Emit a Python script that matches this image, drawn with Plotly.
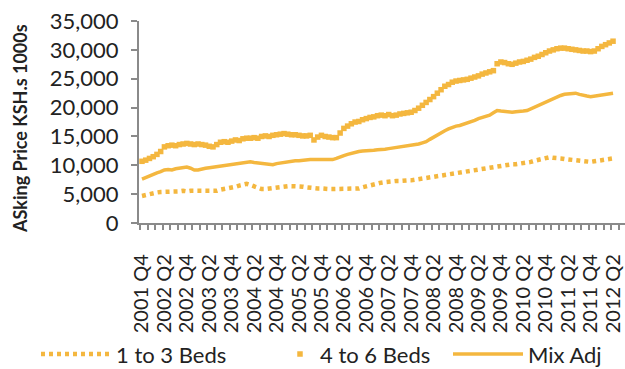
import plotly.graph_objects as go

# monthly observations, index 0 = 2001 Q4 label position
beds_1_3 = [4700, 4900, 5100, 5200, 5300, 5400, 5400, 5500, 5500, 5400, 5500, 5600, 5500, 5600, 5600, 5600,
            5500, 5600, 5600, 5600, 5600, 5800, 5900, 6000, 6100, 6300, 6500, 6700, 6800, 6600, 6300, 6000,
            5900, 5900, 6000, 6100, 6200, 6300, 6300, 6400, 6400, 6400, 6400, 6300, 6200, 6100, 6100, 6000,
            6000, 5900, 5900, 5900, 5900, 5900, 5900, 5900, 5900, 5900, 6000, 6200, 6400, 6600, 6700, 6800,
            7000, 7100, 7200, 7300, 7300, 7300, 7400, 7400, 7400, 7500, 7600, 7700, 7800, 7900, 8000, 8100,
            8300, 8400, 8500, 8600, 8700, 8800, 8900, 9000, 9100, 9200, 9400, 9500, 9600, 9700, 9800, 9900,
            10000, 10100, 10100, 10200, 10200, 10300, 10300, 10400, 10600, 10800, 11000, 11200, 11400, 11400,
            11300, 11300, 11200, 11100, 11000, 11000, 10900, 10800, 10700, 10600, 10600, 10700, 10800, 10900,
            11000, 11100, 11200]

beds_4_6 = [10700, 10900, 11200, 11500, 11900, 12400, 13200, 13400, 13500, 13400, 13600, 13700, 13800, 13700,
            13600, 13700, 13600, 13500, 13300, 13200, 13600, 14000, 14100, 14000, 14200, 14400, 14300, 14600,
            14700, 14700, 14800, 14700, 15000, 15100, 15000, 15200, 15300, 15400, 15500, 15400, 15300, 15300,
            15200, 15100, 15100, 15200, 14400, 14900, 15200, 15000, 14900, 14800, 14800, 15600, 16400, 16800,
            17200, 17500, 17600, 17900, 18100, 18300, 18400, 18600, 18700, 18600, 18800, 18600, 18700, 18900,
            19000, 19100, 19200, 19500, 19900, 20400, 20900, 21400, 21900, 22500, 23100, 23700, 24000, 24400,
            24600, 24700, 24800, 24900, 25100, 25300, 25500, 25800, 26000, 26200, 26400, 27600, 27900, 27800,
            27600, 27500, 27700, 27900, 28000, 28200, 28400, 28700, 28900, 29200, 29500, 29800, 30000, 30200,
            30300, 30300, 30200, 30100, 30000, 29900, 29800, 29800, 29700, 29800, 30200, 30600, 30900, 31200,
            31500]

mix_adj = [7600, 7900, 8200, 8500, 8700, 8900, 9200, 9300, 9200, 9400, 9500, 9600, 9700, 9500, 9200, 9200,
           9400, 9500, 9600, 9700, 9800, 9900, 9900, 10000, 10100, 10200, 10300, 10400, 10500, 10600, 10500,
           10400, 10300, 10200, 10100, 10100, 10300, 10400, 10500, 10700, 10800, 10800, 10800, 10900, 10900,
           11000, 11000, 11000, 11000, 11000, 11000, 11000, 11200, 11500, 11700, 11900, 12100, 12300, 12400,
           12500, 12500, 12600, 12600, 12700, 12700, 12800, 12900, 13000, 13000, 13100, 13200, 13300, 13400,
           13500, 13700, 13900, 14100, 14500, 14900, 15300, 15700, 16000, 16300, 16600, 16800, 16900, 17100,
           17300, 17500, 17800, 18100, 18300, 18500, 18700, 19100, 19500, 19400, 19300, 19200, 19200, 19300,
           19300, 19400, 19500, 19800, 20100, 20400, 20700, 21000, 21300, 21500, 21800, 22100, 22300, 22400,
           22500, 22500, 22300, 22100, 22000, 21900, 22000, 22100, 22200, 22400, 22500, 22500]

months = list(range(len(mix_adj)))

tick_labels = ["2001 Q4", "2002 Q2", "2002 Q4", "2003 Q2", "2003 Q4", "2004 Q2", "2004 Q4", "2005 Q2",
               "2005 Q4", "2006 Q2", "2006 Q4", "2007 Q2", "2007 Q4", "2008 Q2", "2008 Q4", "2009 Q2",
               "2009 Q4", "2010 Q2", "2010 Q4", "2011 Q2", "2011 Q4", "2012 Q2"]
tick_positions = [6 * k for k in range(len(tick_labels))]

y_ticks = [0, 5000, 10000, 15000, 20000, 25000, 30000, 35000]

GOLD = "#F4B73F"
GRAY = "#8A8A8A"
TEXT = "#222222"
FONT = "Lato"

fig = go.Figure()
fig.add_trace(go.Scatter(x=months, y=beds_1_3, mode="lines", name="1 to 3 Beds",
                         line=dict(color=GOLD, width=4.5, dash="4px,4px"), legend="legend"))
fig.add_trace(go.Scatter(x=months, y=beds_4_6, mode="markers", name="4 to 6 Beds",
                         marker=dict(color=GOLD, symbol="square", size=5.5, line=dict(width=0)),
                         legend="legend2"))
fig.add_trace(go.Scatter(x=months, y=mix_adj, mode="lines", name="Mix Adj",
                         line=dict(color=GOLD, width=3.5), legend="legend3"))

legend_common = dict(orientation="h", xref="container", yref="container", yanchor="middle", y=0.04,
                     xanchor="left", font=dict(family=FONT, size=22, color=TEXT),
                     bgcolor="rgba(0,0,0,0)", borderwidth=0)

fig.update_layout(
    width=625, height=369,
    margin=dict(l=139, r=0, t=21, b=142),
    paper_bgcolor="white", plot_bgcolor="white",
    font=dict(family=FONT, color=TEXT),
    showlegend=True,
    legend=dict(x=36 / 625, itemwidth=70, **legend_common),
    legend2=dict(x=280 / 625, **legend_common),
    legend3=dict(x=448 / 625, itemwidth=70, **legend_common),
    xaxis=dict(range=[-0.8, 129.2], tickmode="array", tickvals=tick_positions, ticktext=tick_labels,
               tickangle=-90, ticks="", showgrid=False, zeroline=False,
               showline=True, linecolor=GRAY, linewidth=2,
               tickfont=dict(family=FONT, size=20, color=TEXT), ticklabelstandoff=21,
               minor=dict(tickmode="linear", tick0=-0.5, dtick=2, ticks="outside", ticklen=5,
                          tickwidth=2, tickcolor=GRAY, showgrid=False)),
    yaxis=dict(range=[0, 35000], tickmode="array", tickvals=y_ticks, tickformat=",",
               ticks="outside", ticklen=6, tickwidth=2, tickcolor=GRAY,
               showgrid=False, zeroline=False, showline=True, linecolor=GRAY, linewidth=2,
               tickfont=dict(family=FONT, size=22, color=TEXT), ticklabelstandoff=8),
    annotations=[dict(text="<b>ASking Price KSH.s 1000s</b>", textangle=-90, showarrow=False,
                      xref="paper", yref="paper", x=(20 - 139) / 486, y=(227 - 131) / 206,
                      xanchor="center", yanchor="middle",
                      font=dict(family=FONT, size=18, color=TEXT))],
)

fig.write_html("out.html")
